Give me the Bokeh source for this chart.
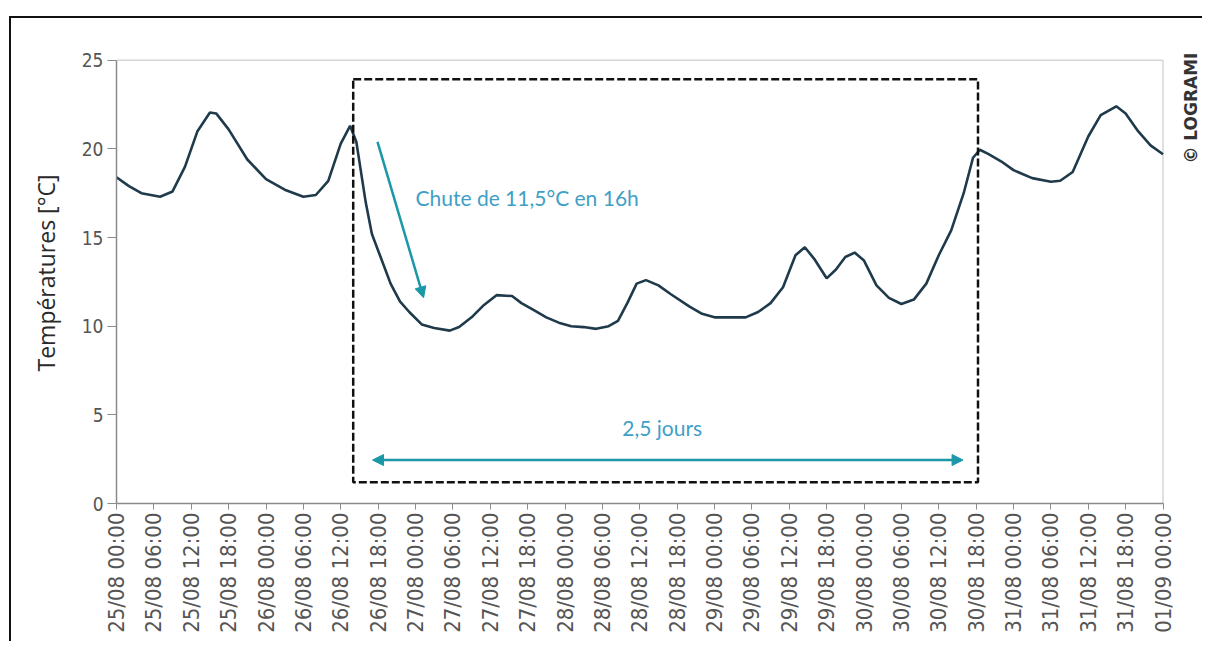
import math
from bokeh.plotting import figure
from bokeh.models import (Range1d, FixedTicker, Label, Arrow, NormalHead)
from bokeh.embed import file_html
from bokeh.resources import INLINE

# ---- data: hours since 25/08 00:00 and temperatures (°C) ----
hours = [0, 2, 4, 7, 9, 11, 13, 15, 16, 18, 21, 24, 27, 30, 32, 34, 36, 37.5,
         38.5, 40, 41, 42.5, 44, 45.5, 47, 49, 51, 53.5, 55, 57, 59, 61, 63.5,
         65, 67, 69, 71, 73, 75, 77, 79, 80.5, 82, 83.5, 85, 87, 89, 92, 94,
         96, 99, 101, 103, 105, 107, 109, 110.5, 112, 114, 115.5, 117, 118.5,
         120, 122, 124, 126, 128, 130, 132, 134, 136, 137.5, 138.6, 140, 142,
         144, 147, 150, 151.5, 153.5, 156, 158, 160.5, 162, 164, 166, 168]
temps = [18.4, 17.9, 17.5, 17.3, 17.6, 19.0, 21.0, 22.05, 22.0, 21.1, 19.4, 18.3,
         17.7, 17.3, 17.4, 18.2, 20.3, 21.3,
         20.4, 17.0, 15.2, 13.8, 12.4, 11.4, 10.8, 10.1, 9.9, 9.75, 9.95, 10.5,
         11.2, 11.75, 11.7,
         11.3, 10.9, 10.5, 10.2, 10.0, 9.95, 9.85, 10.0, 10.3, 11.3, 12.4, 12.6,
         12.3, 11.8, 11.1, 10.7,
         10.5, 10.5, 10.5, 10.8, 11.3, 12.2, 14.0, 14.45, 13.8, 12.7, 13.2, 13.9,
         14.15,
         13.7, 12.3, 11.6, 11.25, 11.5, 12.4, 14.0, 15.4, 17.5, 19.5, 19.95, 19.7,
         19.3,
         18.8, 18.35, 18.15, 18.2, 18.7, 20.7, 21.9, 22.4, 22.0, 21.0, 20.2, 19.7]

tick_hours = list(range(0, 169, 6))
tick_labels = ["25/08 00:00", "25/08 06:00", "25/08 12:00", "25/08 18:00",
               "26/08 00:00", "26/08 06:00", "26/08 12:00", "26/08 18:00",
               "27/08 00:00", "27/08 06:00", "27/08 12:00", "27/08 18:00",
               "28/08 00:00", "28/08 06:00", "28/08 12:00", "28/08 18:00",
               "29/08 00:00", "29/08 06:00", "29/08 12:00", "29/08 18:00",
               "30/08 00:00", "30/08 06:00", "30/08 12:00", "30/08 18:00",
               "31/08 00:00", "31/08 06:00", "31/08 12:00", "31/08 18:00",
               "01/09 00:00"]
y_ticks = [0, 5, 10, 15, 20, 25]

# annotation anchors (data units)
box_left, box_right, box_bottom, box_top = 38.0, 138.3, 1.2, 23.93
drop_start = (41.9, 20.4)
drop_end = (49.3, 11.6)
span_y = 2.45
span_x0, span_x1 = 41.1, 135.9
drop_text = "Chute de 11,5°C en 16h"
span_text = "2,5 jours"
credit_text = "© LOGRAMI"
credit_pos = (172.5, 22.3)

x_lo, x_hi = tick_hours[0], tick_hours[-1]
y_lo, y_hi = y_ticks[0], y_ticks[-1]

AX_FONT = "'DejaVu Sans Condensed', 'Liberation Sans Narrow', 'DejaVu Sans', sans-serif"
ANN_FONT = "Lato"
TEAL = "#1b98a8"
TEAL_TXT = "#3fa0c6"
LINE = "#1f3a4b"
FRAME_GREY = "#d6d6d6"

# the visible frame spans 0-168 h and 0-25 °C; the canvas area is a little
# larger so that the credit at the right and top can be drawn
p = figure(width=1193, height=625, output_backend="svg", toolbar_location=None,
           x_range=Range1d(0, 174.5), y_range=Range1d(0, 26),
           min_border_left=105, min_border_top=24, min_border_right=1,
           min_border_bottom=140,
           styles={"margin-top": "16px", "margin-left": "9px",
                   "border-top": "2px solid #111",
                   "border-left": "2px solid #111"})
p.grid.visible = False
p.outline_line_color = None

# light grey top and right frame lines
p.line([x_lo, x_hi, x_hi], [y_hi, y_hi, y_lo], line_color=FRAME_GREY, line_width=1.5)

p.line(hours, temps, line_color=LINE, line_width=2.6)

p.quad(left=[box_left], right=[box_right], bottom=[box_bottom], top=[box_top],
       fill_alpha=0, line_color="#111111", line_width=2.5, line_dash="8 3")

p.add_layout(Arrow(end=NormalHead(size=11, fill_color=TEAL, line_color=TEAL),
                   x_start=drop_start[0], y_start=drop_start[1],
                   x_end=drop_end[0], y_end=drop_end[1],
                   line_color=TEAL, line_width=2.5))
p.add_layout(Arrow(start=NormalHead(size=11, fill_color=TEAL, line_color=TEAL),
                   end=NormalHead(size=11, fill_color=TEAL, line_color=TEAL),
                   x_start=span_x0, y_start=span_y, x_end=span_x1, y_end=span_y,
                   line_color=TEAL, line_width=2.5))

p.add_layout(Label(x=48.0, y=17.27, text=drop_text, text_baseline="middle",
                   text_color=TEAL_TXT, text_font=ANN_FONT,
                   text_font_size="21px"))
p.add_layout(Label(x=87.6, y=4.29, text=span_text, text_baseline="middle",
                   text_align="center", text_color=TEAL_TXT,
                   text_font=ANN_FONT, text_font_size="21px"))
p.add_layout(Label(x=credit_pos[0], y=credit_pos[1], text=credit_text,
                   angle=math.pi / 2, text_align="center", text_baseline="middle",
                   text_color="#333333", text_font="DejaVu Sans",
                   text_font_style="bold", text_font_size="17px"))

# axes
xa = p.xaxis[0]
xa.bounds = (x_lo, x_hi)
xa.ticker = FixedTicker(ticks=tick_hours)
xa.major_label_overrides = {h: lab for h, lab in zip(tick_hours, tick_labels)}
xa.major_label_orientation = math.pi / 2
xa.major_label_text_font = AX_FONT
xa.major_label_text_font_size = "22px"
xa.major_label_text_color = "#555555"
xa.major_label_standoff = 3
xa.minor_tick_line_color = None
xa.major_tick_out = 6
xa.major_tick_in = 0
xa.axis_line_color = "#8a8a8a"
xa.axis_line_width = 1.5
xa.major_tick_line_color = "#8a8a8a"

ya = p.yaxis[0]
ya.bounds = (y_lo, y_hi)
ya.ticker = FixedTicker(ticks=y_ticks)
ya.major_label_text_font = AX_FONT
ya.major_label_text_font_size = "19px"
ya.major_label_text_color = "#555555"
ya.major_label_standoff = 4
ya.minor_tick_line_color = None
ya.major_tick_out = 9
ya.major_tick_in = 0
ya.axis_line_color = "#8a8a8a"
ya.axis_line_width = 1.5
ya.major_tick_line_color = "#8a8a8a"
ya.axis_label = "Températures [°C]"
ya.axis_label_text_font = "Open Sans"
ya.axis_label_text_font_style = "normal"
ya.axis_label_text_font_size = "23px"
ya.axis_label_text_color = "#2a2a2a"
ya.axis_label_standoff = 17

open("out.html", "w").write(file_html(p, INLINE))
